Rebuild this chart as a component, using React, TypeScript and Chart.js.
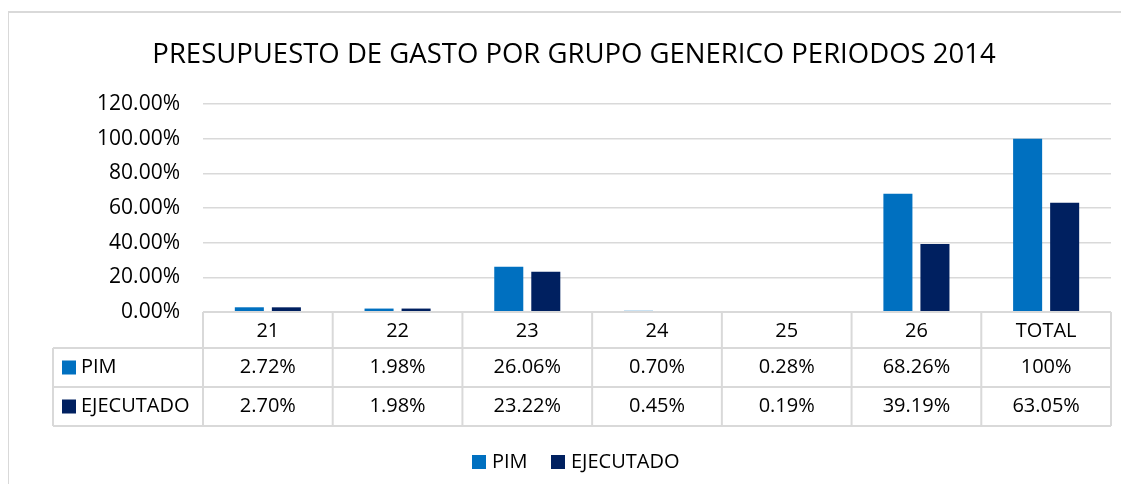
import React, { useEffect, useRef } from 'react';
import { Chart, registerables } from 'chart.js';

Chart.register(...registerables);

const chartTitle = 'PRESUPUESTO DE GASTO POR GRUPO GENERICO PERIODOS 2014';
const categories = ['21', '22', '23', '24', '25', '26', 'TOTAL'];
const seriesNames = ['PIM', 'EJECUTADO'];
const pimValues = [2.72, 1.98, 26.06, 0.7, 0.28, 68.26, 100];
const ejecutadoValues = [2.7, 1.98, 23.22, 0.45, 0.19, 39.19, 63.05];
const pimTableLabels = ['2.72%', '1.98%', '26.06%', '0.70%', '0.28%', '68.26%', '100%'];
const ejecutadoTableLabels = ['2.70%', '1.98%', '23.22%', '0.45%', '0.19%', '39.19%', '63.05%'];
const yTickValues = [0, 20, 40, 60, 80, 100, 120];
const yTickLabels = ['0.00%', '20.00%', '40.00%', '60.00%', '80.00%', '100.00%', '120.00%'];

const PIM_COLOR = '#0070C0';
const EJ_COLOR = '#002060';
const LINE_COLOR = '#d9d9d9';
const FONT = '"Open Sans", "DejaVu Sans", sans-serif';

const decorPlugin = {
  id: 'decor',
  afterDraw(chart: any) {
    const ctx = chart.ctx;
    const area = chart.chartArea;
    const xs = chart.scales.x;
    ctx.save();

    // outer border (left and top edges only are visible)
    ctx.strokeStyle = LINE_COLOR;
    ctx.lineWidth = 2;
    ctx.beginPath();
    ctx.moveTo(0, chart.height);
    ctx.lineTo(0, 4);
    ctx.lineTo(chart.width, 4);
    ctx.stroke();

    // title
    ctx.fillStyle = '#000';
    ctx.font = `27.5px ${FONT}`;
    ctx.textAlign = 'center';
    ctx.textBaseline = 'middle';
    ctx.fillText(chartTitle, 566, 47);

    // data table
    const n = categories.length;
    const half = (xs.getPixelForValue(1) - xs.getPixelForValue(0)) / 2;
    const rowTop = area.bottom;
    const rows = [rowTop, rowTop + 36, rowTop + 75, rowTop + 114];
    const labelLeft = 45;
    ctx.strokeStyle = LINE_COLOR;
    ctx.lineWidth = 2;
    ctx.beginPath();
    ctx.moveTo(area.left, rows[0]);
    ctx.lineTo(area.right, rows[0]);
    for (let r = 1; r < rows.length; r++) {
      ctx.moveTo(labelLeft, rows[r]);
      ctx.lineTo(area.right, rows[r]);
    }
    for (let i = 0; i < n; i++) {
      const bx = xs.getPixelForValue(i) - half;
      ctx.moveTo(bx, rows[0]);
      ctx.lineTo(bx, rows[3]);
    }
    ctx.moveTo(area.right, rows[0]);
    ctx.lineTo(area.right, rows[3]);
    ctx.moveTo(labelLeft, rows[1]);
    ctx.lineTo(labelLeft, rows[3]);
    ctx.stroke();

    ctx.font = `20px ${FONT}`;
    ctx.fillStyle = '#000';
    ctx.textAlign = 'center';
    for (let i = 0; i < n; i++) {
      const cx = xs.getPixelForValue(i);
      ctx.fillText(categories[i], cx, (rows[0] + rows[1]) / 2 + 1);
      ctx.fillText(pimTableLabels[i], cx, (rows[1] + rows[2]) / 2);
      ctx.fillText(ejecutadoTableLabels[i], cx, (rows[2] + rows[3]) / 2);
    }
    const colors = [PIM_COLOR, EJ_COLOR];
    ctx.textAlign = 'left';
    for (let s = 0; s < 2; s++) {
      const cy = (rows[s + 1] + rows[s + 2]) / 2;
      ctx.fillStyle = colors[s];
      ctx.fillRect(54, cy - 7, 14, 14);
      ctx.fillStyle = '#000';
      ctx.fillText(seriesNames[s], 73, cy);
    }

    // legend
    const ly = 454;
    const lx = [464, 543];
    for (let s = 0; s < 2; s++) {
      ctx.fillStyle = colors[s];
      ctx.fillRect(lx[s], ly - 7, 14, 14);
      ctx.fillStyle = '#000';
      ctx.fillText(seriesNames[s], lx[s] + 20, ly);
    }
    ctx.restore();
  },
};

export default function App() {
  const ref = useRef<HTMLCanvasElement | null>(null);
  useEffect(() => {
    if (!ref.current) return;
    document.documentElement.style.overflow = 'hidden';
    const chart = new Chart(ref.current, {
      type: 'bar',
      data: {
        labels: categories,
        datasets: [
          {
            label: seriesNames[0],
            data: pimValues,
            backgroundColor: PIM_COLOR,
            categoryPercentage: 0.571,
            barPercentage: 0.784,
          },
          {
            label: seriesNames[1],
            data: ejecutadoValues,
            backgroundColor: EJ_COLOR,
            categoryPercentage: 0.571,
            barPercentage: 0.784,
          },
        ],
      },
      options: {
        animation: false,
        responsive: false,
        devicePixelRatio: 1,
        layout: { padding: { top: 96, bottom: 180, left: 0, right: 18 } },
        plugins: {
          legend: { display: false },
          title: { display: false },
          tooltip: { enabled: false },
        },
        scales: {
          x: { display: false },
          y: {
            min: 0,
            max: 120,
            afterBuildTicks: (scale: any) => {
              scale.ticks = yTickValues.map((v) => ({ value: v }));
            },
            afterFit: (scale: any) => {
              scale.width = 195;
            },
            border: { display: false },
            grid: { color: LINE_COLOR, lineWidth: 1.5, drawTicks: false },
            ticks: {
              padding: 23,
              color: '#000',
              font: { family: FONT, size: 21 },
              callback: (v: any) => yTickLabels[yTickValues.indexOf(Number(v))],
            },
          },
        },
      },
      plugins: [decorPlugin],
    });
    return () => chart.destroy();
  }, []);
  return (
    <canvas
      ref={ref}
      width={1121}
      height={484}
      style={{ display: 'block', marginRight: -8, marginBottom: -8 }}
    />
  );
}
